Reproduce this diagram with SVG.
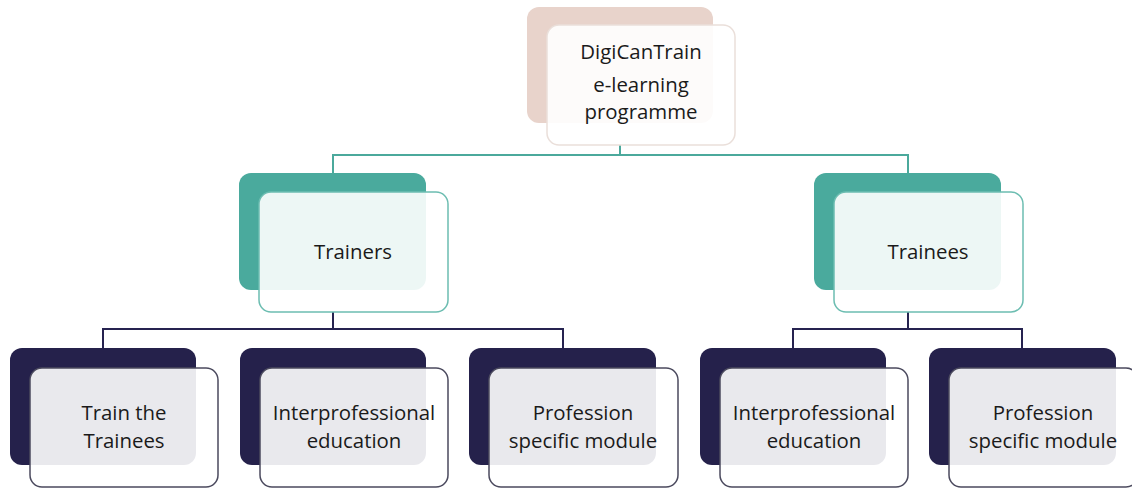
<svg xmlns="http://www.w3.org/2000/svg" width="1132" height="488" viewBox="0 0 1132 488">
  <style>
    .bg { fill: #ffffff; }
    .wire-teal { fill: none; stroke: #4ba99c; stroke-width: 2; }
    .wire-navy { fill: none; stroke: #262350; stroke-width: 2; }
    .back-pink { fill: #e8d3cb; }
    .back-teal { fill: #4aaa9d; }
    .back-navy { fill: #25214b; }
    .front { fill: #ffffff; fill-opacity: 0.9; stroke-width: 1.5; }
    .edge-pink { stroke: #eadfda; }
    .edge-teal { stroke: #6cbdb1; }
    .edge-navy { stroke: #4b4a5e; }
    .label { font-family: "Open Sans", "Liberation Sans", sans-serif; font-size: 20.4px; fill: #1a1a1a; text-anchor: middle; }
  </style>

  <rect class="bg" x="0" y="0" width="1132" height="488"/>

  <!-- connectors drawn first so the translucent cards sit over them -->
  <g id="connectors">
    <path class="wire-teal" d="M620 145 V155 M333 173 V155 H908 V173"/>
    <path class="wire-navy" d="M333 312 V329 M103 348 V329 H563 V348"/>
    <path class="wire-navy" d="M908 312 V329 M793 348 V329 H1022 V348"/>
  </g>

  <g id="node-programme">
    <rect class="back-pink" x="527" y="7" width="186" height="116" rx="12"/>
    <rect class="front edge-pink" x="547" y="25" width="188" height="120" rx="12"/>
    <text class="label" x="641" y="59">DigiCanTrain</text>
    <text class="label" x="641" y="92">e-learning</text>
    <text class="label" x="641" y="119">programme</text>
  </g>

  <g id="node-trainers">
    <rect class="back-teal" x="239" y="173" width="187" height="117" rx="12"/>
    <rect class="front edge-teal" x="259" y="192" width="189" height="120" rx="12"/>
    <text class="label" x="353" y="259">Trainers</text>
  </g>

  <g id="node-trainees">
    <rect class="back-teal" x="814" y="173" width="187" height="117" rx="12"/>
    <rect class="front edge-teal" x="834" y="192" width="189" height="120" rx="12"/>
    <text class="label" x="928" y="259">Trainees</text>
  </g>

  <g id="node-train-the-trainees">
    <rect class="back-navy" x="10" y="348" width="186" height="117" rx="12"/>
    <rect class="front edge-navy" x="30" y="368" width="188" height="119" rx="12"/>
    <text class="label" x="124" y="420">Train the</text>
    <text class="label" x="124" y="448">Trainees</text>
  </g>

  <g id="node-trainers-ipe">
    <rect class="back-navy" x="240" y="348" width="186" height="117" rx="12"/>
    <rect class="front edge-navy" x="260" y="368" width="188" height="119" rx="12"/>
    <text class="label" x="354" y="420">Interprofessional</text>
    <text class="label" x="354" y="448">education</text>
  </g>

  <g id="node-trainers-psm">
    <rect class="back-navy" x="469" y="348" width="187" height="117" rx="12"/>
    <rect class="front edge-navy" x="489" y="368" width="189" height="119" rx="12"/>
    <text class="label" x="583" y="420">Profession</text>
    <text class="label" x="583" y="448">specific module</text>
  </g>

  <g id="node-trainees-ipe">
    <rect class="back-navy" x="700" y="348" width="186" height="117" rx="12"/>
    <rect class="front edge-navy" x="720" y="368" width="188" height="119" rx="12"/>
    <text class="label" x="814" y="420">Interprofessional</text>
    <text class="label" x="814" y="448">education</text>
  </g>

  <g id="node-trainees-psm">
    <rect class="back-navy" x="929" y="348" width="187" height="117" rx="12"/>
    <rect class="front edge-navy" x="949" y="368" width="189" height="119" rx="12"/>
    <text class="label" x="1043" y="420">Profession</text>
    <text class="label" x="1043" y="448">specific module</text>
  </g>
</svg>
